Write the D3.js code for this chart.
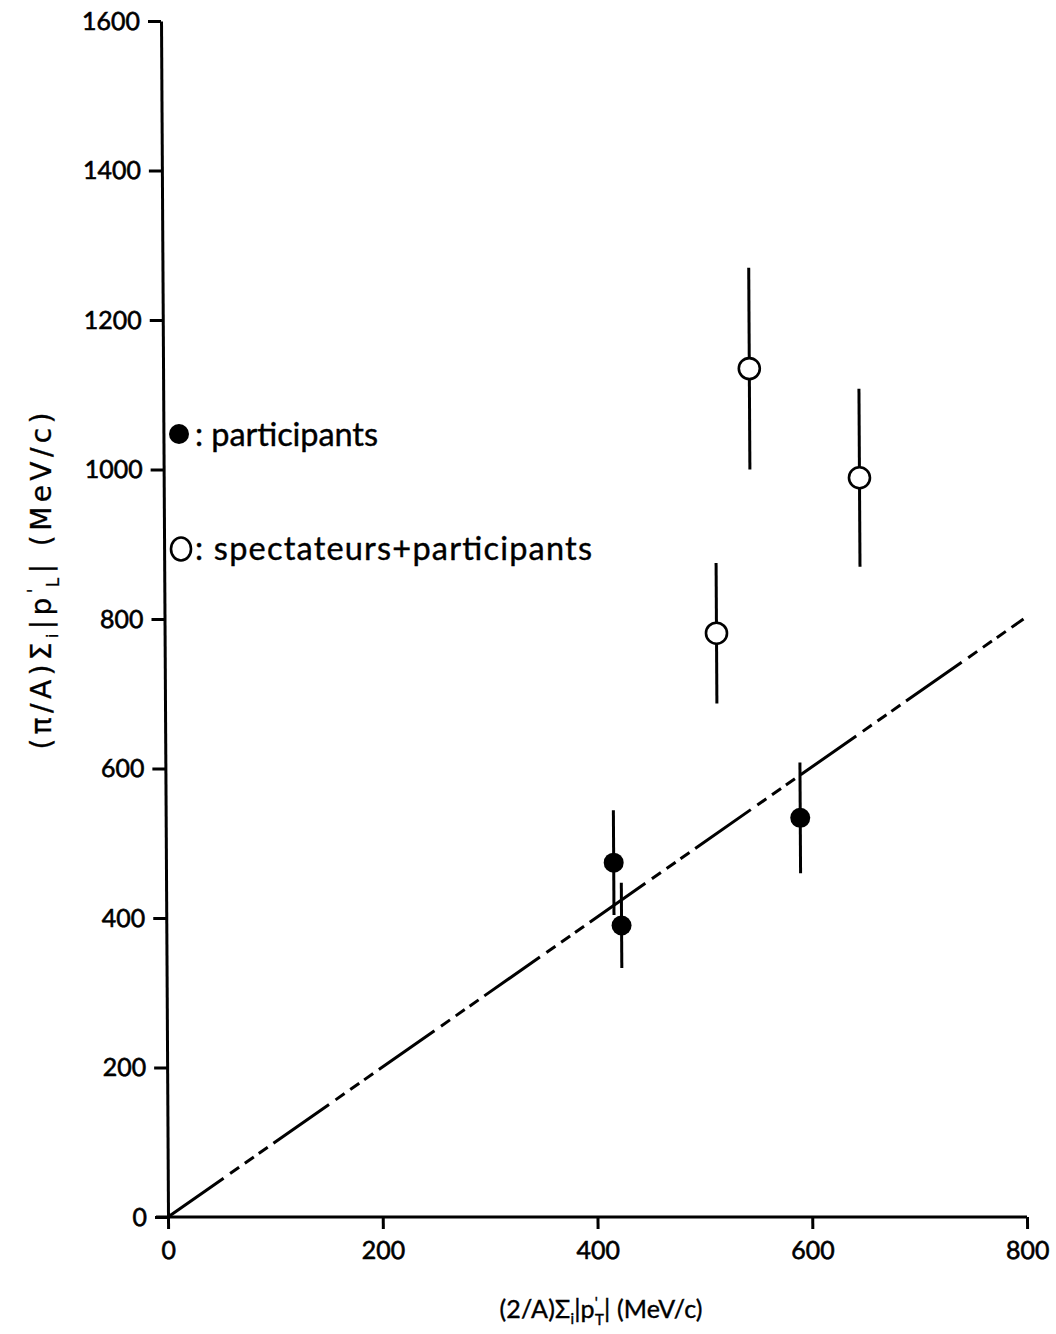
<!DOCTYPE html>
<html>
<head>
<meta charset="utf-8">
<script src="https://cdn.jsdelivr.net/npm/d3@7"></script>
<style>
  html, body { margin: 0; padding: 0; background: #fff; }
  svg { display: block; }
  text { font-family: Lato, "DejaVu Sans", sans-serif; fill: #000; }
</style>
</head>
<body>
<svg id="chart" width="1056" height="1334"></svg>
<script>
// Axis ticks
const xTicks = [0, 200, 400, 600, 800];
const yTicks = [0, 200, 400, 600, 800, 1000, 1200, 1400, 1600];

// Participants (filled circles)
const partX   = [417, 424, 591];
const partY   = [474, 390, 534];
const partErr = [70, 57, 74];

// Spectators + participants (open circles)
const specX   = [546, 648, 514];
const specY   = [1135, 989, 781];
const specErr = [135, 119, 94];

// Reference line y = x
const refLine = [[0, 0], [800, 800]];

const svg = d3.select("#chart");
const x = d3.scaleLinear().domain([0, 800]).range([168, 1027]);
const y = d3.scaleLinear().domain([0, 1600]).range([1217, 21]);

// the plotted frame leans very slightly (vertical axis drifts left toward the top)
const base = y(0);
const plot = svg.append("g")
  .attr("transform", `translate(0,${base}) skewX(0.335) translate(0,${-base})`);

const ink = "#000";
const lw = 3;

// axes
const yAxis = plot.append("g")
  .attr("transform", `translate(${x(0)},0)`)
  .call(d3.axisLeft(y).tickValues(yTicks).tickSize(13).tickSizeOuter(0).tickPadding(8).tickFormat(d3.format("d")));
const xAxis = plot.append("g")
  .attr("transform", `translate(0,${y(0)})`)
  .call(d3.axisBottom(x).tickValues(xTicks).tickSize(12).tickSizeOuter(0).tickPadding(12).tickFormat(d3.format("d")));

[xAxis, yAxis].forEach(g => {
  g.select(".domain").attr("stroke", ink).attr("stroke-width", lw);
  g.selectAll(".tick line").attr("stroke", ink).attr("stroke-width", lw);
  g.selectAll(".tick text").attr("font-size", 25).attr("fill", ink)
    .attr("stroke", ink).attr("stroke-width", 0.6)
    .style("font-family", "Lato, 'DejaVu Sans', sans-serif");
});
// extend x axis a little left of the vertical axis
xAxis.select(".domain").attr("d", `M${x(0) - 12},0H${x(800)}`);

// y = x reference line, long dash followed by three short dashes
plot.append("path")
  .attr("d", d3.line().x(d => x(d[0])).y(d => y(d[1]))(refLine))
  .attr("fill", "none")
  .attr("stroke", ink)
  .attr("stroke-width", lw)
  .attr("stroke-dasharray", "68 8 11 7 11 6 11 7");

// error bars + markers
function drawSeries(xs, ys, errs, filled) {
  const g = plot.append("g");
  xs.forEach((xv, i) => {
    g.append("line")
      .attr("x1", x(xv)).attr("x2", x(xv))
      .attr("y1", y(ys[i] - errs[i])).attr("y2", y(ys[i] + errs[i]))
      .attr("stroke", ink).attr("stroke-width", lw);
  });
  xs.forEach((xv, i) => {
    g.append("circle")
      .attr("cx", x(xv)).attr("cy", y(ys[i]))
      .attr("r", filled ? 10 : 10.5)
      .attr("fill", filled ? ink : "#fff")
      .attr("stroke", ink)
      .attr("stroke-width", filled ? 0 : 2.6);
  });
}
drawSeries(partX, partY, partErr, true);
drawSeries(specX, specY, specErr, false);

// legend
const leg = svg.append("g");
leg.append("circle").attr("cx", 179).attr("cy", 434).attr("r", 10).attr("fill", ink);
leg.append("text").attr("x", 195).attr("y", 446).attr("font-size", 32.5)
  .attr("stroke", ink).attr("stroke-width", 0.4)
  .attr("textLength", 183).attr("lengthAdjust", "spacing")
  .text(": participants");
leg.append("ellipse").attr("cx", 181).attr("cy", 549).attr("rx", 10).attr("ry", 11.5)
  .attr("fill", "none").attr("stroke", ink).attr("stroke-width", 2.6);
leg.append("text").attr("x", 195).attr("y", 560).attr("font-size", 32.5)
  .attr("stroke", ink).attr("stroke-width", 0.4)
  .attr("textLength", 397).attr("lengthAdjust", "spacing")
  .text(": spectateurs+participants");

// vertical axis title
const yt = svg.append("text")
  .attr("transform", "translate(51,581) rotate(-90)")
  .attr("text-anchor", "middle")
  .attr("font-size", 28)
  .style("font-family", "'DejaVu Sans', sans-serif")
  .attr("stroke", ink).attr("stroke-width", 0.3)
  .attr("textLength", 337).attr("lengthAdjust", "spacing");
yt.append("tspan").text("(π/A)Σ");
yt.append("tspan").attr("font-size", 16).attr("dy", 7).text("i");
yt.append("tspan").attr("dy", -7).text("|p");
yt.append("tspan").attr("font-size", 17).attr("dy", -11).text("'");
yt.append("tspan").attr("font-size", 17).attr("dx", -3).attr("dy", 19).text("L");
yt.append("tspan").attr("dy", -8).text("| (MeV/c)");

const xt = svg.append("text")
  .attr("x", 601).attr("y", 1318)
  .attr("text-anchor", "middle")
  .attr("font-size", 25)
  .attr("stroke", ink).attr("stroke-width", 0.4)
  .attr("textLength", 203).attr("lengthAdjust", "spacing");
xt.append("tspan").text("(2/A)Σ");
xt.append("tspan").attr("font-size", 15).attr("dy", 6).text("i");
xt.append("tspan").attr("dy", -6).text("|p");
xt.append("tspan").attr("font-size", 15).attr("dy", -10).text("'");
xt.append("tspan").attr("font-size", 15).attr("dx", -3).attr("dy", 17).text("T");
xt.append("tspan").attr("dy", -7).text("| (MeV/c)");
</script>
</body>
</html>
